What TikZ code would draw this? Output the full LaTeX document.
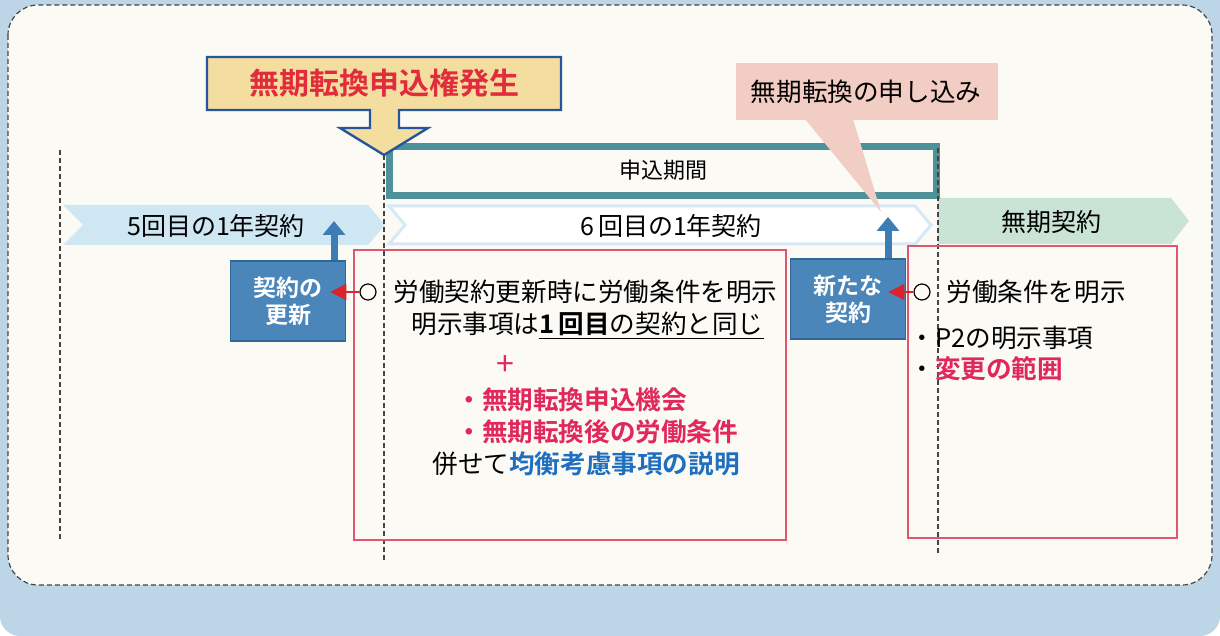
\documentclass[tikz,border=0pt]{standalone}
\usepackage{fontspec}
\setmainfont{Noto Sans CJK JP}[BoldFont={Noto Sans CJK JP Bold}]
\usetikzlibrary{arrows.meta,positioning}
\definecolor{bgblue}{HTML}{BDD6E7}
\definecolor{cream}{HTML}{FBFAF5}
\definecolor{dashgray}{HTML}{444444}
\definecolor{bandblue}{HTML}{CFE6F3}
\definecolor{bandedge}{HTML}{D6E9F4}
\definecolor{bandgreen}{HTML}{C9E3D4}
\definecolor{periodteal}{HTML}{4F9199}
\definecolor{yellowfill}{HTML}{F4DE9F}
\definecolor{yelledge}{HTML}{27559C}
\definecolor{titlered}{HTML}{E02C3C}
\definecolor{calloutpink}{HTML}{F2CDC3}
\definecolor{framered}{HTML}{E05570}
\definecolor{boxblue}{HTML}{4A86BA}
\definecolor{boxedge}{HTML}{2F6797}
\definecolor{arrowblue}{HTML}{3C7DB6}
\definecolor{arrowred}{HTML}{D9232E}
\definecolor{markred}{HTML}{E0285A}
\definecolor{markblue}{HTML}{1F6FC0}

\begin{document}
\begin{tikzpicture}[x=0.5pt,y=-0.5pt,
    every node/.style={inner sep=0pt},
    body/.style={font=\fontsize{12.8}{15}\selectfont},
    boldbody/.style={font=\bfseries\fontsize{12.8}{15}\selectfont},
    bandtext/.style={font=\fontsize{12.5}{15}\selectfont},
    bluebox/.style={fill=boxblue,draw=boxedge,line width=0.8pt,minimum width=57.5pt,
        minimum height=40pt,align=center,text=white,font=\bfseries\fontsize{11.5}{13.5}\selectfont},
    redframe/.style={draw=framered,line width=1pt},
    cutline/.style={draw=dashgray,line width=0.6pt,dash pattern=on 2.5pt off 1.5pt},
    upar/.style={draw=arrowblue,line width=3.5pt,-{Triangle[width=11pt,length=7pt]}},
    redar/.style={draw=arrowred,line width=0.7pt,-{Triangle[width=8pt,length=8pt]}},
    ring/.style={circle,draw,line width=0.6pt,minimum size=8pt}
]
\useasboundingbox (0,0) rectangle (1220,636);
% background and panel
\fill[white] (0,0) rectangle (1220,636);
\fill[bgblue,rounded corners=10pt] (0,-20) rectangle (1220,636);
\draw[cutline,fill=cream,rounded corners=15pt] (8,5) rectangle (1212,585);

% contract bands
\fill[bandblue] (63,205) -- (368,205) -- (385,225) -- (368,245) -- (63,245) -- (83,225) -- cycle;
\draw[bandedge,line width=1.5pt,fill=white] (389,206) -- (915,206) -- (931,225) -- (915,244)
    -- (389,244) -- (405,225) -- cycle;
\fill[bandgreen] (938,198) -- (1171,198) -- (1189,221) -- (1171,244) -- (938,244) -- cycle;
\node[bandtext] (b5) at (216,226) {5回目の1年契約};
\node[bandtext] (b6) at (671,226) {6\,回目の1年契約};
\node[bandtext] (bfree) at (1051,222) {無期契約};

% application period
\draw[periodteal,line width=3.5pt] (389,147) rectangle (936,196);
\node[font=\fontsize{11}{13}\selectfont] (kikan) at (663,170) {申込期間};

% right arises
\draw[yelledge,line width=1.2pt,fill=yellowfill] (207,57) -- (561,57) -- (561,110) -- (399,110)
    -- (399,128) -- (428,128) -- (384,155) -- (340,128) -- (370,128) -- (370,110) -- (207,110) -- cycle;
\node[text=titlered,font=\bfseries\fontsize{15}{18}\selectfont] (hassei) at (384,83) {無期転換申込権発生};

% callout
\fill[calloutpink] (736,63) rectangle (998,120);
\fill[calloutpink] (805,119) -- (853,119) -- (881,212) -- cycle;
\node[body] (moushikomi) at (866,92) {無期転換の申し込み};

% time lines
\draw[cutline] (60,150) -- (60,540);
\draw[cutline] (384,155) -- (384,560);
\draw[cutline] (938,148) -- (938,553);

% frames
\draw[redframe] (354,250) rectangle (786,540);
\draw[redframe] (908,246) rectangle (1177,538);

% renewals
\node[bluebox] (koushin) at (288,301) {契約の\\更新};
\node[bluebox] (arata) at (848,299) {新たな\\契約};
\coordinate (up1) at (334,221);
\coordinate (up2) at (888,217);
\draw[upar] (koushin.north -| up1) -- (up1);
\draw[upar] (arata.north -| up2) -- (up2);

\node[ring] (c1) at (368,292) {};
\node[ring] (c2) at (922,292) {};
\draw[redar] (c1.west) -- ([xshift=-8pt]c1.west -| koushin.east);
\draw[redar] (c2.west) -- ([xshift=-9pt]c2.west -| arata.east);

% texts
\node[body,anchor=west] (a1) at (393,292) {労働契約更新時に労働条件を明示};
\node[body,anchor=west] (a2) at (411,326) {明示事項は\underline{\textbf{1\,回目}の契約と同じ}};
\node[text=markred,font=\fontsize{16}{18}\selectfont] (plus) at (505,366) {+};
\node[boldbody,anchor=west,text=markred] (a3) at (456,400) {・無期転換申込機会};
\node[boldbody,anchor=west,text=markred] (a4) at (456,432) {・無期転換後の労働条件};
\node[body,anchor=west] (a5) at (432,464) {併せて\textcolor{markblue}{\textbf{均衡考慮事項の説明}}};

\node[body,anchor=west] (r1) at (946,292) {労働条件を明示};
\node[body,anchor=west] (r2) at (909,338) {・P2の明示事項};
\node[body,anchor=west] (r3) at (909,369) {・\textcolor{markred}{\textbf{変更の範囲}}};
\end{tikzpicture}
\end{document}
